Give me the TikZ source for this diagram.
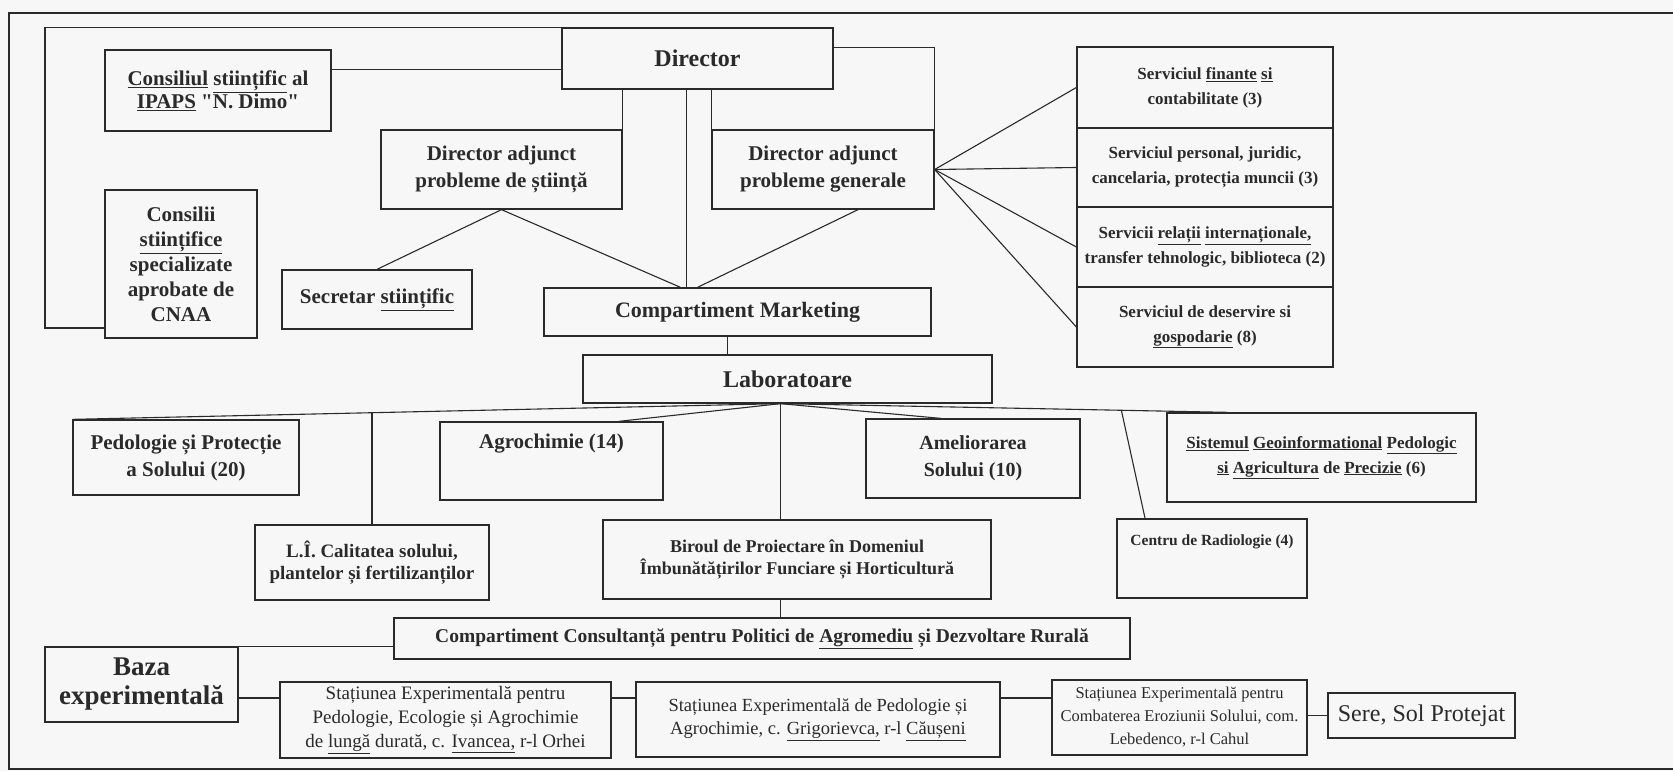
\documentclass[tikz,border=0pt]{standalone}
\usepackage{fontspec}
\setmainfont{Liberation Serif}
\usetikzlibrary{calc}

\definecolor{paper}{HTML}{F7F7F7}
\definecolor{ink}{HTML}{2A2A2A}
\newcommand{\fsz}[2]{\fontsize{#1}{#2}\selectfont}

\begin{document}
\begin{tikzpicture}[x=1pt, y=-1pt,
    box/.style={draw=ink, line width=1.3pt, align=center, inner sep=2pt, text=ink},
    conn/.style={draw=ink, line width=1.1pt}]
    \useasboundingbox (0,0) rectangle (1673,771);
    \fill[paper] (0,0) rectangle (1673,771);
    % --- Frame ---
    \draw[ink, line width=2.6pt] (1673,13) -- (9,13) -- (9,769) -- (1673,769);

    % --- Conducere ---
    \node[box, minimum width=271pt, minimum height=61pt, font=\bfseries\fsz{24}{28}] (dir) at (697.5,58.5) {Director};
    \node[box, minimum width=226pt, minimum height=81pt, font=\bfseries\fsz{21}{23}] (cons) at (218,90.5)
        {\underline{Consiliul} \underline{stiințific} al\\\underline{IPAPS} \textquotedbl N. Dimo\textquotedbl};
    \node[box, minimum width=152pt, minimum height=148pt, font=\bfseries\fsz{21}{25}] (cnaa) at (181,264)
        {Consilii\\\underline{stiințifice}\\specializate\\aprobate de\\CNAA};
    \node[box, minimum width=241pt, minimum height=79pt, font=\bfseries\fsz{21}{27}] (das) at (501.5,169.5)
        {Director adjunct\\probleme de știință};
    \node[box, minimum width=222pt, minimum height=79pt, font=\bfseries\fsz{21}{27}] (dag) at (823,169.5)
        {Director adjunct\\probleme generale};
    \node[box, minimum width=190pt, minimum height=59pt, font=\bfseries\fsz{21}{25}] (sec) at (377,299.5)
        {Secretar \underline{stiințific}};
    \node[box, minimum width=387pt, minimum height=48pt, font=\bfseries\fsz{22}{26}] (mkt) at (737.5,312) {Compartiment Marketing};
    \node[box, minimum width=409pt, minimum height=48pt, font=\bfseries\fsz{24}{28}] (lab) at (787.5,379) {Laboratoare};

    % --- Servicii ---
    \node[box, minimum width=256pt, minimum height=81pt, font=\bfseries\fsz{17}{25}] (fin) at (1205,87.5)
        {Serviciul \underline{finante} \underline{si}\\contabilitate (3)};
    \node[box, minimum width=256pt, minimum height=79pt, font=\bfseries\fsz{17}{25}] (pers) at (1205,167.5)
        {Serviciul personal, juridic,\\cancelaria, protecția muncii (3)};
    \node[box, minimum width=256pt, minimum height=80pt, font=\bfseries\fsz{17}{25}] (rel) at (1205,247)
        {Servicii \underline{relații} \underline{internaționale,}\\transfer tehnologic, biblioteca (2)};
    \node[box, minimum width=256pt, minimum height=80pt, font=\bfseries\fsz{17}{25}] (dsv) at (1205,327)
        {Serviciul de deservire si\\\underline{gospodarie} (8)};

    % --- Laboratoare ---
    \node[box, minimum width=226pt, minimum height=75pt, font=\bfseries\fsz{21}{27}] (ped) at (186,457.5)
        {Pedologie și Protecție\\a Solului (20)};
    \node[box, minimum width=223pt, minimum height=78pt, text depth=40pt, font=\bfseries\fsz{21}{27}] (agro) at (551.5,461)
        {Agrochimie (14)};
    \node[box, minimum width=214pt, minimum height=79pt, font=\bfseries\fsz{20}{27}] (amel) at (973,458.5)
        {Ameliorarea\\Solului (10)};
    \node[box, minimum width=309pt, minimum height=89pt, font=\bfseries\fsz{17}{25}] (sist) at (1321.5,457.5)
        {\underline{Sistemul} \underline{Geoinformational} \underline{Pedologic}\\\underline{si} \underline{Agricultura} de \underline{Precizie} (6)};
    \node[box, minimum width=234pt, minimum height=75pt, font=\bfseries\fsz{19}{22}] (li) at (372,562.5)
        {L.Î. Calitatea solului,\\plantelor și fertilizanților};
    \node[box, minimum width=388pt, minimum height=79pt, font=\bfseries\fsz{18}{22}] (bir) at (797,559.5)
        {Biroul de Proiectare în Domeniul\\Îmbunătățirilor Funciare și Horticultură};
    \node[box, minimum width=190pt, minimum height=79pt, text depth=36pt, font=\bfseries\fsz{15.5}{20}] (cen) at (1212,558.5)
        {Centru de Radiologie (4)};
    \node[box, minimum width=736pt, minimum height=41pt, font=\bfseries\fsz{19.5}{23}] (cons2) at (762,638.5)
        {Compartiment Consultanță pentru Politici de \underline{Agromediu} și Dezvoltare Rurală};

    % --- Baza experimentala ---
    \node[box, minimum width=193pt, minimum height=75pt, font=\bfseries\fsz{27}{29}] (baza) at (141.5,684.5)
        {Baza\\experimentală};
    \node[box, minimum width=331pt, minimum height=76pt, font=\fsz{19}{24}] (st1) at (445.5,720)
        {Stațiunea Experimentală pentru\\Pedologie, Ecologie și Agrochimie\\de \underline{lungă} durată, c. \underline{Ivancea,} r-l Orhei};
    \node[box, minimum width=364pt, minimum height=75pt, font=\fsz{18.5}{23}] (st2) at (818,719.5)
        {Stațiunea Experimentală de Pedologie și\\Agrochimie, c. \underline{Grigorievca,} r-l \underline{Căușeni}};
    \node[box, minimum width=255pt, minimum height=75pt, font=\fsz{16.5}{23}] (st3) at (1179.5,717.5)
        {Stațiunea Experimentală pentru\\Combaterea Eroziunii Solului, com.\\Lebedenco, r-l Cahul};
    \node[box, minimum width=187pt, minimum height=45pt, font=\fsz{24}{28}] (sere) at (1421.5,715.5) {Sere, Sol Protejat};

    % --- Legaturi Director ---
    \coordinate (cs) at ($(cons.north east)!0.25!(cons.south east)$);
    \draw[conn] (cs) -- (cs -| dir.west);
    \coordinate (brk) at (45,328);
    \draw[conn] (dir.north west) -| (brk) -- (brk -| cnaa.west);
    \draw[conn] (das.north east) -- (das.north east |- dir.south);
    \draw[conn] (dag.north west) -- (dag.north west |- dir.south);
    \coordinate (de) at ($(dir.north east)!0.33!(dir.south east)$);
    \draw[conn] (de) -| (dag.north east);
    \coordinate (dm) at ($(dir.south)+(-11,0)$);
    \draw[conn] (dm) -- (dm |- mkt.north);
    \draw[conn] (das.south) -- (sec.north);
    \draw[conn] (das.south) -- ($(mkt.north)+(-57,0)$);
    \draw[conn] ($(dag.south)+(35,0)$) -- ($(mkt.north)+(-40,0)$);
    \foreach \s in {fin,pers,rel,dsv}
        \draw[conn] (dag.east) -- (\s.west);
    \coordinate (ml) at ($(mkt.south)+(-10,0)$);
    \draw[conn] (ml) -- (ml |- lab.north);

    % --- Legaturi Laboratoare ---
    \coordinate (lb) at ($(lab.south)+(-7,0)$);
    \draw[conn] (lb) -- (ped.north west) coordinate[pos=0.577] (lp);
    \draw[conn] (li.north) -- (li.north |- lp);
    \draw[conn] (lb) -- ($(agro.north)!0.6!(agro.north east)$);
    \draw[conn] (lb) -- (lb |- bir.north);
    \draw[conn] (lb) -- ($(amel.north west)!0.35!(amel.north east)$);
    \draw[conn] (lb) -- ($(sist.north west)!0.2!(sist.north east)$) coordinate[pos=0.761] (sc);
    \draw[conn] (sc) -- ($(cen.north west)!0.15!(cen.north east)$);
    \draw[conn] (bir.south -| lb) -- (cons2.north -| lb);

    % --- Legaturi Baza experimentala ---
    \draw[conn] (baza.north east) -- (baza.north east -| cons2.west);
    \coordinate (row) at (0,698);
    \draw[conn] (baza.east |- row) -- (st1.west |- row);
    \draw[conn] (st1.east |- row) -- (st2.west |- row);
    \draw[conn] (st2.east |- row) -- (st3.west |- row);
    \draw[conn] (st3.east |- sere.west) -- (sere.west);
\end{tikzpicture}
\end{document}
